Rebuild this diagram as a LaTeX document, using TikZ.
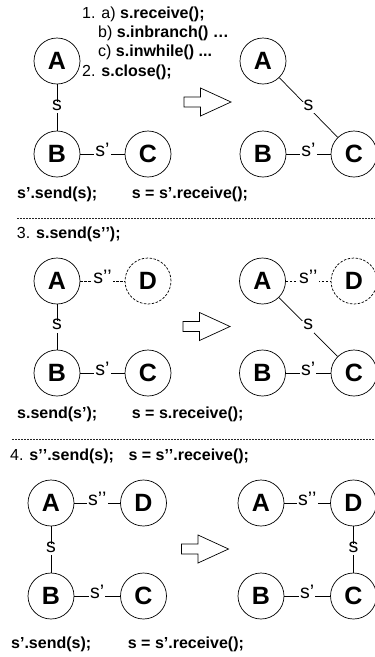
\documentclass[tikz,border=0pt]{standalone}
\usepackage{fontspec}
\setmainfont{Liberation Sans}
\begin{document}
\begin{tikzpicture}[x=1pt,y=-1pt,
  every node/.style={font=\fontsize{16}{19}\selectfont},
  st/.style={circle, draw, line width=0.7pt, minimum size=46pt, inner sep=0pt, font=\fontsize{25}{25}\selectfont\bfseries},
  dst/.style={st, dash pattern=on 2.5pt off 1.5pt},
  conn/.style={line width=0.7pt},
  dconn/.style={conn, dash pattern=on 2.5pt off 1.5pt},
  lbl/.style={fill=white, inner xsep=1.2pt, inner ysep=3pt, text height=1.05ex, text depth=0pt, font=\fontsize{19.5}{22}\selectfont},
  code/.style={anchor=base west, inner sep=0pt},
  sepline/.style={line width=0.5pt, dash pattern=on 2pt off 1pt, black!85},
  blk/.style={line width=0.7pt, fill=white}]
\useasboundingbox[fill=white] (0,0) rectangle (375,657);
\clip (0,0) rectangle (375,657);

% ---------- panel 1 ----------
\node[code] (t1a) at (82,18.5) {1. a) \textbf{s.receive();}};
\node[code] (t1b) at (98,37) {b) \textbf{s.inbranch() …}};
\node[code] (t1c) at (98,56.5) {c) \textbf{s.inwhile() ...}};
\node[code] (t1d) at (82,76) {2. \textbf{s.close();}};

\node[st] (A1) at (57,61) {A};
\node[st] (B1) at (57,154) {B};
\node[st] (C1) at (148,154) {C};
\draw[conn] (A1) -- node[lbl] {s} (B1);
\draw[conn] (B1) -- node[lbl] {s’} (C1);

\draw[blk, shift={(207.5,102)}] (-23.5,-5) -- (-7,-5) -- (-7,-14) -- (23.5,0) -- (-7,14) -- (-7,5) -- (-23.5,5) -- cycle;

\node[st] (A2) at (263,61) {A};
\node[st] (B2) at (263,154) {B};
\node[st] (C2) at (354,154) {C};
\draw[conn] (A2) -- node[lbl] {s} (C2);
\draw[conn] (B2) -- node[lbl] {s’} (C2);

\node[code] (t1e) at (17,198.5) {\textbf{s’.send(s);}};
\node[code] (t1f) at (131.7,198.5) {\textbf{s = s’.receive();}};

\draw[sepline] (17,218.5) -- (375,218.5);

% ---------- panel 2 ----------
\node[code] (t2a) at (16.7,238.5) {3. \textbf{s.send(s’\kern0pt’);}};

\node[st] (A3) at (57,281) {A};
\node[dst] (D3) at (148,281) {D};
\node[st] (B3) at (57,373) {B};
\node[st] (C3) at (148,373) {C};
\draw[dconn] (A3) -- node[lbl] {s’\kern0pt’} (D3);
\draw[conn] (A3) -- node[lbl] {s} (B3);
\draw[conn] (B3) -- node[lbl] {s’} (C3);

\draw[blk, shift={(206.5,326.5)}] (-23.5,-5) -- (-7,-5) -- (-7,-14) -- (23.5,0) -- (-7,14) -- (-7,5) -- (-23.5,5) -- cycle;

\node[st] (A4) at (262.5,281) {A};
\node[dst] (D4) at (354,281) {D};
\node[st] (B4) at (262.5,373) {B};
\node[st] (C4) at (354,373) {C};
\draw[dconn] (A4) -- node[lbl] {s’\kern0pt’} (D4);
\draw[conn] (A4) -- node[lbl] {s} (C4);
\draw[conn] (B4) -- node[lbl] {s’} (C4);

\node[code] (t2b) at (17,418) {\textbf{s.send(s’);}};
\node[code] (t2c) at (131.7,418) {\textbf{s = s.receive();}};

\draw[sepline] (12,439.5) -- (375,439.5);

% ---------- panel 3 ----------
\node[code] (t3a) at (10,460) {4. \textbf{s’\kern0pt’.send(s);}};
\node[code] (t3b) at (128.3,460) {\textbf{s = s’\kern0pt’.receive();}};

\node[st] (A5) at (51,503) {A};
\node[st] (D5) at (143.5,503) {D};
\node[st] (B5) at (51,596) {B};
\node[st] (C5) at (143.5,596) {C};
\draw[conn] (A5) -- node[lbl] {s’\kern0pt’} (D5);
\draw[conn] (A5) -- node[lbl] {s} (B5);
\draw[conn] (B5) -- node[lbl] {s’} (C5);

\draw[blk, shift={(205,549)}] (-23.5,-5) -- (-7,-5) -- (-7,-14) -- (23.5,0) -- (-7,14) -- (-7,5) -- (-23.5,5) -- cycle;

\node[st] (A6) at (261,503) {A};
\node[st] (D6) at (353.5,503) {D};
\node[st] (B6) at (261,596) {B};
\node[st] (C6) at (353.5,596) {C};
\draw[conn] (A6) -- node[lbl] {s’\kern0pt’} (D6);
\draw[conn] (D6) -- node[lbl] {s} (C6);
\draw[conn] (B6) -- node[lbl] {s’} (C6);

\node[code] (t3c) at (11,648) {\textbf{s’.send(s);}};
\node[code] (t3d) at (127.7,648) {\textbf{s = s’.receive();}};
\end{tikzpicture}
\end{document}
